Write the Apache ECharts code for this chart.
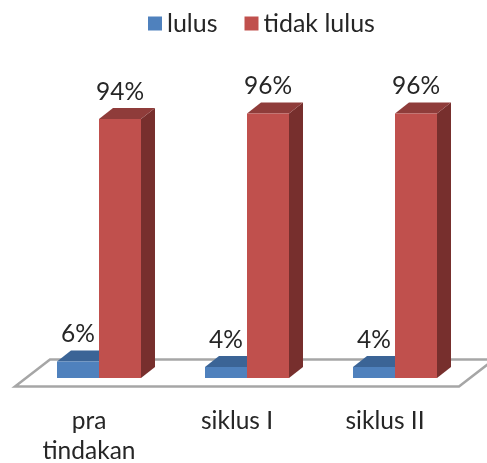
<!DOCTYPE html>
<html>
<head>
<meta charset="utf-8">
<style>
  html, body { margin: 0; padding: 0; background: #fff; }
  #main { width: 487px; height: 463px; }
</style>
</head>
<body>
<div id="main"></div>
<script src="https://cdn.jsdelivr.net/npm/echarts@6/dist/echarts.min.js"></script>
<script>
var categories = ['pra\ntindakan', 'siklus I', 'siklus II'];
var lulus = [6, 4, 4];
var tidakLulus = [94, 96, 96];

var FONT = 'Lato';
var DEPTH_X = 14;
var DEPTH_Y = 11;
var BAR_W = 42;

// one 3d bar: front, top and side faces + the label above it
function bar3d(offset, front, top, side) {
  return function (params, api) {
    var idx = api.value(0);
    var val = api.value(1);
    var p = api.coord([idx, val]);
    var base = api.coord([idx, 0]);
    var x0 = p[0] + offset;
    var x1 = x0 + BAR_W;
    var y0 = p[1];
    var y1 = base[1];
    return {
      type: 'group',
      children: [
        { type: 'polygon', shape: { points: [[x1, y0], [x1 + DEPTH_X, y0 - DEPTH_Y], [x1 + DEPTH_X, y1 - DEPTH_Y], [x1, y1]] }, style: { fill: side } },
        { type: 'polygon', shape: { points: [[x0, y0], [x0 + DEPTH_X, y0 - DEPTH_Y], [x1 + DEPTH_X, y0 - DEPTH_Y], [x1, y0]] }, style: { fill: top } },
        { type: 'rect', shape: { x: x0, y: y0, width: BAR_W, height: y1 - y0 }, style: { fill: front } },
        { type: 'text', x: x0 + BAR_W / 2, y: y0 - 27, style: { text: val + '%', fill: '#262626', font: '24.5px ' + FONT, align: 'center', verticalAlign: 'middle' } }
      ]
    };
  };
}

// floor of the 3d box, sits under the bars
function floor(params, api) {
  var g = params.coordSys;
  var yF = g.y + g.height + 8.5;
  var yB = g.y + g.height - 18.5;
  var xL = g.x;
  var xR = g.x + g.width;
  return {
    type: 'polygon',
    shape: { points: [[xL, yF], [xL + 35, yB], [xR + 35, yB], [xR, yF]] },
    style: { fill: '#fff', stroke: '#a6a6a6', lineWidth: 2.5 }
  };
}

var myChart = echarts.init(document.getElementById('main'));
myChart.setOption({
  animation: false,
  backgroundColor: '#fff',
  legend: {
    data: [
      { name: 'lulus', itemStyle: { color: '#4f81bd' } },
      { name: 'tidak lulus', itemStyle: { color: '#c0504d' } }
    ],
    top: 6,
    left: 143,
    icon: 'rect',
    itemWidth: 14,
    itemHeight: 14,
    itemGap: 27,
    textStyle: { fontFamily: FONT, fontSize: 25, color: '#262626' }
  },
  grid: { left: 15, top: 102.5, width: 444, height: 275.5, outerBoundsMode: 'none' },
  xAxis: {
    type: 'category',
    data: categories,
    axisLine: { show: false },
    axisTick: { show: false },
    axisLabel: { fontFamily: FONT, fontSize: 24.5, color: '#262626', lineHeight: 30, margin: 28, interval: 0 }
  },
  yAxis: { type: 'value', min: 0, max: 100, show: false },
  series: [
    { name: 'lantai', type: 'custom', renderItem: floor, data: [[0, 0]], silent: true, z: 1 },
    { name: 'lulus', type: 'custom', renderItem: bar3d(-32, '#4f81bd', '#3b6496', '#2f5078'), encode: { x: 0, y: 1 }, data: lulus.map(function (v, i) { return [i, v]; }), z: 2 },
    { name: 'tidak lulus', type: 'custom', renderItem: bar3d(10, '#c0504d', '#8f3c3a', '#772f2d'), encode: { x: 0, y: 1 }, data: tidakLulus.map(function (v, i) { return [i, v]; }), z: 3 }
  ]
});
</script>
</body>
</html>
